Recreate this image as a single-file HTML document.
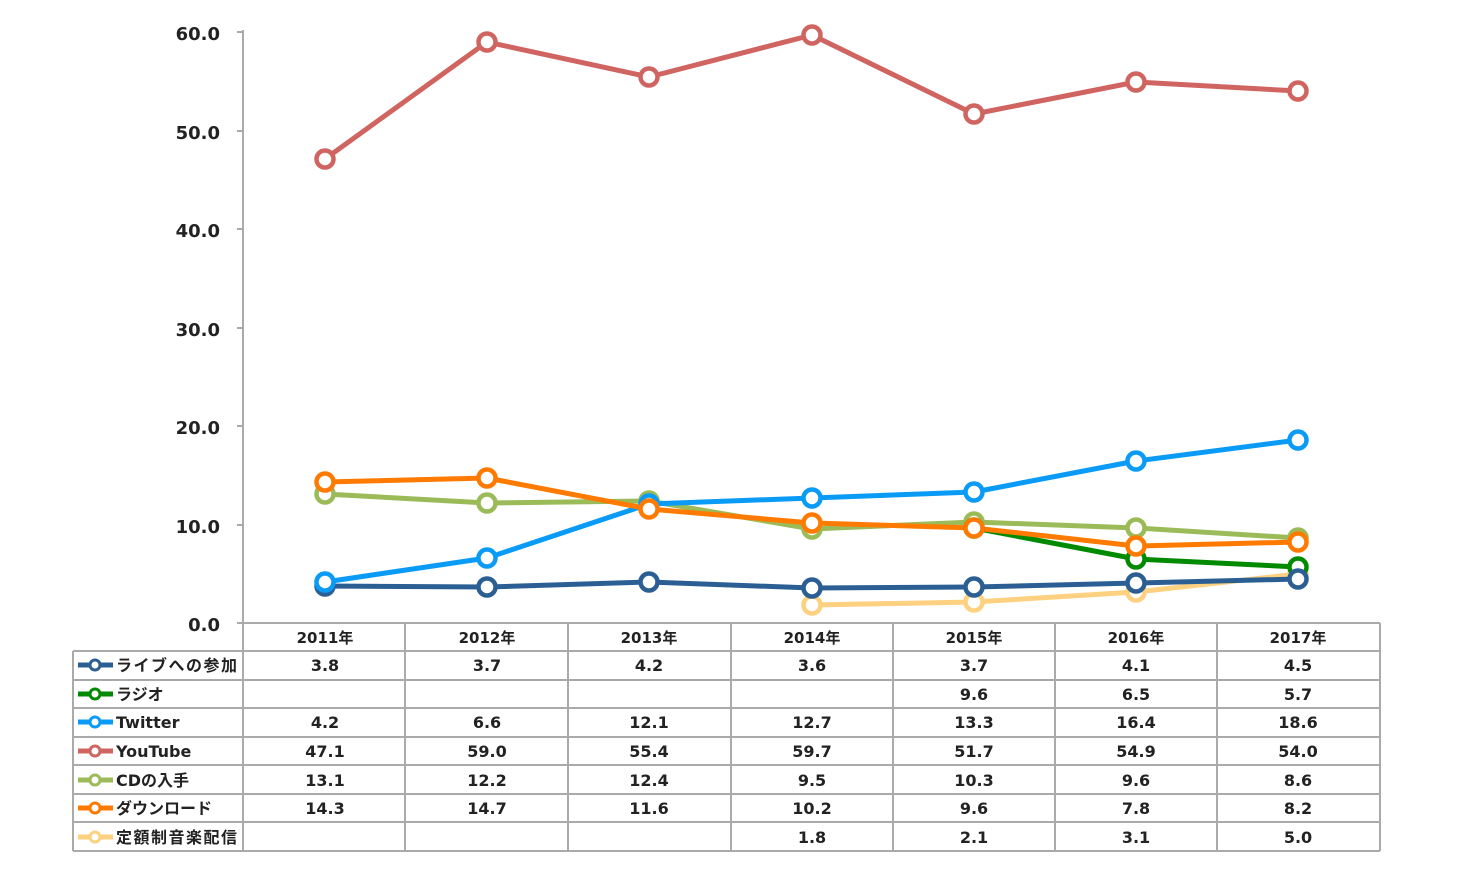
<!DOCTYPE html>
<html><head><meta charset="utf-8"><style>
html,body{margin:0;padding:0;background:#fff;}
svg text{font-family:"DejaVu Sans","Noto Sans CJK JP",sans-serif;font-weight:bold;fill:#222;}
</style></head><body>
<svg width="1470" height="869" viewBox="0 0 1470 869" xmlns="http://www.w3.org/2000/svg">
<g stroke="#aaa" stroke-width="2" fill="none">
<line x1="243" y1="30" x2="243" y2="852"/>
<line x1="237" y1="623" x2="1380" y2="623"/>
<line x1="237" y1="32" x2="243" y2="32"/><line x1="237" y1="131" x2="243" y2="131"/>
<line x1="237" y1="229" x2="243" y2="229"/><line x1="237" y1="328" x2="243" y2="328"/>
<line x1="237" y1="426" x2="243" y2="426"/><line x1="237" y1="525" x2="243" y2="525"/>
<line x1="73" y1="651" x2="1380" y2="651"/><line x1="73" y1="680" x2="1380" y2="680"/>
<line x1="73" y1="708" x2="1380" y2="708"/><line x1="73" y1="737" x2="1380" y2="737"/>
<line x1="73" y1="765" x2="1380" y2="765"/><line x1="73" y1="794" x2="1380" y2="794"/>
<line x1="73" y1="822" x2="1380" y2="822"/><line x1="73" y1="851" x2="1380" y2="851"/>
<line x1="73" y1="651" x2="73" y2="851"/>
<line x1="405" y1="623" x2="405" y2="851"/><line x1="568" y1="623" x2="568" y2="851"/>
<line x1="731" y1="623" x2="731" y2="851"/><line x1="893" y1="623" x2="893" y2="851"/>
<line x1="1055" y1="623" x2="1055" y2="851"/><line x1="1217" y1="623" x2="1217" y2="851"/>
<line x1="1380" y1="623" x2="1380" y2="851"/>
</g>
<g font-size="18" text-anchor="end">
<text x="220" y="40">60.0</text><text x="220" y="139">50.0</text><text x="220" y="237">40.0</text>
<text x="220" y="336">30.0</text><text x="220" y="434">20.0</text><text x="220" y="533">10.0</text>
<text x="220" y="631">0.0</text>
</g>
<g font-size="15" text-anchor="middle">
<text x="325" y="643">2011年</text><text x="487" y="643">2012年</text><text x="649" y="643">2013年</text>
<text x="812" y="643">2014年</text><text x="974" y="643">2015年</text><text x="1136" y="643">2016年</text><text x="1298" y="643">2017年</text>
</g>
<g stroke-width="5" fill="none" stroke-linejoin="round">
<polyline stroke="#fdd17f" points="812,605 974,602 1136,592 1298,574"/>
<polyline stroke="#9bbb59" points="325,494 487,503 649,501 812,529 974,522 1136,528 1298,538"/>
<polyline stroke="#008a00" points="974,528 1136,559 1298,567"/>
<polyline stroke="#2b5f94" points="325,586 487,587 649,582 812,588 974,587 1136,583 1298,579"/>
<polyline stroke="#0a9bf7" points="325,582 487,558 649,504 812,498 974,492 1136,461 1298,440"/>
<polyline stroke="#ff7a00" points="325,482 487,478 649,509 812,523 974,528 1136,546 1298,542"/>
<polyline stroke="#d06460" points="325,159 487,42 649,77 812,35 974,114 1136,82 1298,91"/>
</g>
<g fill="#fff" stroke-width="4.5">
<g stroke="#fdd17f"><circle cx="812" cy="605" r="8.5"/><circle cx="974" cy="602" r="8.5"/><circle cx="1136" cy="592" r="8.5"/><circle cx="1298" cy="574" r="8.5"/></g>
<g stroke="#9bbb59"><circle cx="325" cy="494" r="8.5"/><circle cx="487" cy="503" r="8.5"/><circle cx="649" cy="501" r="8.5"/><circle cx="812" cy="529" r="8.5"/><circle cx="974" cy="522" r="8.5"/><circle cx="1136" cy="528" r="8.5"/><circle cx="1298" cy="538" r="8.5"/></g>
<g stroke="#008a00"><circle cx="974" cy="528" r="8.5"/><circle cx="1136" cy="559" r="8.5"/><circle cx="1298" cy="567" r="8.5"/></g>
<g stroke="#2b5f94"><circle cx="325" cy="586" r="8.5"/><circle cx="487" cy="587" r="8.5"/><circle cx="649" cy="582" r="8.5"/><circle cx="812" cy="588" r="8.5"/><circle cx="974" cy="587" r="8.5"/><circle cx="1136" cy="583" r="8.5"/><circle cx="1298" cy="579" r="8.5"/></g>
<g stroke="#0a9bf7"><circle cx="325" cy="582" r="8.5"/><circle cx="487" cy="558" r="8.5"/><circle cx="649" cy="504" r="8.5"/><circle cx="812" cy="498" r="8.5"/><circle cx="974" cy="492" r="8.5"/><circle cx="1136" cy="461" r="8.5"/><circle cx="1298" cy="440" r="8.5"/></g>
<g stroke="#ff7a00"><circle cx="325" cy="482" r="8.5"/><circle cx="487" cy="478" r="8.5"/><circle cx="649" cy="509" r="8.5"/><circle cx="812" cy="523" r="8.5"/><circle cx="974" cy="528" r="8.5"/><circle cx="1136" cy="546" r="8.5"/><circle cx="1298" cy="542" r="8.5"/></g>
<g stroke="#d06460"><circle cx="325" cy="159" r="8.5"/><circle cx="487" cy="42" r="8.5"/><circle cx="649" cy="77" r="8.5"/><circle cx="812" cy="35" r="8.5"/><circle cx="974" cy="114" r="8.5"/><circle cx="1136" cy="82" r="8.5"/><circle cx="1298" cy="91" r="8.5"/></g>
</g>
<g stroke-width="5">
<line x1="78" y1="665" x2="113" y2="665" stroke="#2b5f94"/><circle cx="95" cy="665" r="5" fill="#fff" stroke="#2b5f94" stroke-width="3"/>
<line x1="78" y1="694" x2="113" y2="694" stroke="#008a00"/><circle cx="95" cy="694" r="5" fill="#fff" stroke="#008a00" stroke-width="3"/>
<line x1="78" y1="722" x2="113" y2="722" stroke="#0a9bf7"/><circle cx="95" cy="722" r="5" fill="#fff" stroke="#0a9bf7" stroke-width="3"/>
<line x1="78" y1="751" x2="113" y2="751" stroke="#d06460"/><circle cx="95" cy="751" r="5" fill="#fff" stroke="#d06460" stroke-width="3"/>
<line x1="78" y1="780" x2="113" y2="780" stroke="#9bbb59"/><circle cx="95" cy="780" r="5" fill="#fff" stroke="#9bbb59" stroke-width="3"/>
<line x1="78" y1="808" x2="113" y2="808" stroke="#ff7a00"/><circle cx="95" cy="808" r="5" fill="#fff" stroke="#ff7a00" stroke-width="3"/>
<line x1="78" y1="837" x2="113" y2="837" stroke="#fdd17f"/><circle cx="95" cy="837" r="5" fill="#fff" stroke="#fdd17f" stroke-width="3"/>
</g>
<g font-size="16">
<text x="116" y="671" textLength="121">ライブへの参加</text><text x="116" y="700">ラジオ</text><text x="116" y="728">Twitter</text>
<text x="116" y="757">YouTube</text><text x="116" y="786">CDの入手</text><text x="116" y="814">ダウンロード</text><text x="116" y="843" textLength="121">定額制音楽配信</text>
</g>
<g font-size="16" text-anchor="middle">
<text x="325" y="671">3.8</text><text x="487" y="671">3.7</text><text x="649" y="671">4.2</text><text x="812" y="671">3.6</text><text x="974" y="671">3.7</text><text x="1136" y="671">4.1</text><text x="1298" y="671">4.5</text>
<text x="974" y="700">9.6</text><text x="1136" y="700">6.5</text><text x="1298" y="700">5.7</text>
<text x="325" y="728">4.2</text><text x="487" y="728">6.6</text><text x="649" y="728">12.1</text><text x="812" y="728">12.7</text><text x="974" y="728">13.3</text><text x="1136" y="728">16.4</text><text x="1298" y="728">18.6</text>
<text x="325" y="757">47.1</text><text x="487" y="757">59.0</text><text x="649" y="757">55.4</text><text x="812" y="757">59.7</text><text x="974" y="757">51.7</text><text x="1136" y="757">54.9</text><text x="1298" y="757">54.0</text>
<text x="325" y="786">13.1</text><text x="487" y="786">12.2</text><text x="649" y="786">12.4</text><text x="812" y="786">9.5</text><text x="974" y="786">10.3</text><text x="1136" y="786">9.6</text><text x="1298" y="786">8.6</text>
<text x="325" y="814">14.3</text><text x="487" y="814">14.7</text><text x="649" y="814">11.6</text><text x="812" y="814">10.2</text><text x="974" y="814">9.6</text><text x="1136" y="814">7.8</text><text x="1298" y="814">8.2</text>
<text x="812" y="843">1.8</text><text x="974" y="843">2.1</text><text x="1136" y="843">3.1</text><text x="1298" y="843">5.0</text>
</g>
</svg>
</body></html>
